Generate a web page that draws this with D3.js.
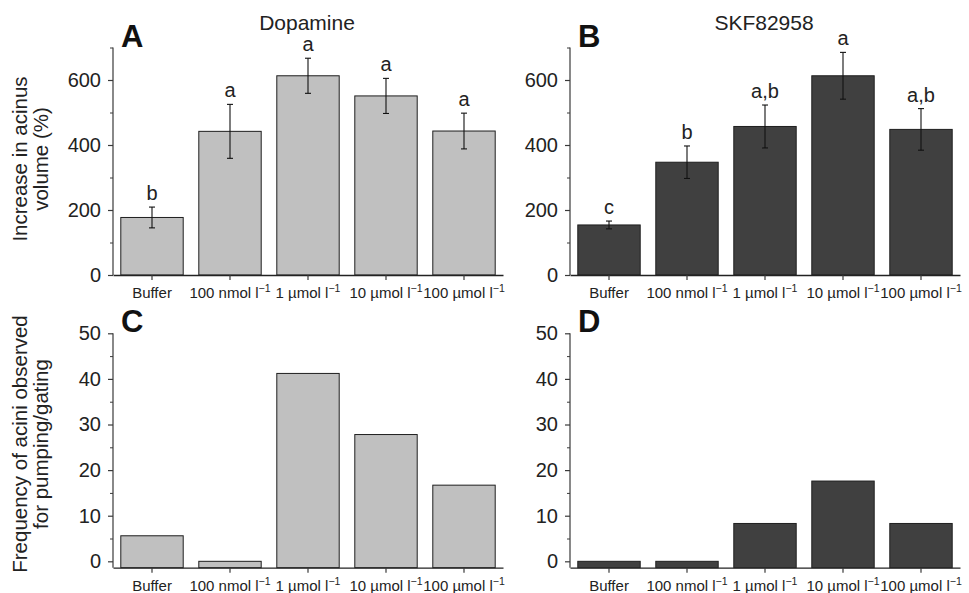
<!DOCTYPE html>
<html>
<head>
<meta charset="utf-8">
<script src="https://cdn.jsdelivr.net/npm/d3@7"></script>
<style>
  html, body { margin: 0; padding: 0; background: #fff; }
  svg { display: block; font-family: "Liberation Sans", Arial, Helvetica, sans-serif; }
</style>
</head>
<body>
<svg id="chart" width="969" height="593"></svg>
<script>
// ---------- data ----------
const categories = ["Buffer", "100 nmol", "1 µmol", "10 µmol", "100 µmol"];
const unitLabels = [false, true, true, true, true];

const dopamineVolume = [177, 442, 613, 551, 443];
const dopamineVolumeErr = [32, 83, 54, 54, 55];
const dopamineLetters = ["b", "a", "a", "a", "a"];

const skfVolume = [154, 347, 457, 613, 448];
const skfVolumeErr = [12, 50, 66, 72, 64];
const skfLetters = ["c", "b", "a,b", "a", "a,b"];

const dopamineFreq = [5.6, 0, 41.2, 27.8, 16.7];
const skfFreq = [0, 0, 8.3, 17.6, 8.3];

const volumeTicks = [0, 200, 400, 600];
const volumeMinorTicks = [100, 300, 500, 700];
const freqTicks = [0, 10, 20, 30, 40, 50];
const freqMinorTicks = [5, 15, 25, 35, 45];

const drugTitles = ["Dopamine", "SKF82958"];
const panelLetters = ["A", "B", "C", "D"];
const volumeTitle = ["Increase in acinus", "volume (%)"];
const freqTitle = ["Frequency of acini observed", "for pumping/gating"];

// ---------- drawing ----------
const svg = d3.select("#chart");
const lightFill = "#c0c0c0", darkFill = "#404040";
const axisColor = "#3a3a3a", textColor = "#222";

function panel(opts) {
  const g = svg.append("g");
  const x = d3.scaleBand().domain(categories).range([opts.x0, opts.x0 + 390])
    .paddingInner(0.2).paddingOuter(0.1);
  const y = d3.scaleLinear().domain(opts.domain).range([opts.yBottom, opts.yTop]);
  const base = y(opts.domain[0]);

  // bars
  g.selectAll("rect.bar").data(opts.values).join("rect")
    .attr("class", "bar")
    .attr("x", (d, i) => x(categories[i]))
    .attr("width", x.bandwidth())
    .attr("y", d => y(d))
    .attr("height", d => base - y(d))
    .attr("fill", opts.fill)
    .attr("stroke", "#1e1e1e")
    .attr("stroke-width", 1);

  // error bars
  if (opts.err) {
    const eg = g.append("g").attr("stroke", "#111").attr("stroke-width", 1.1);
    opts.values.forEach((v, i) => {
      const cx = x(categories[i]) + x.bandwidth() / 2;
      const e = opts.err[i];
      eg.append("line").attr("x1", cx).attr("x2", cx).attr("y1", y(v + e)).attr("y2", y(v - e));
      eg.append("line").attr("x1", cx - 3).attr("x2", cx + 3).attr("y1", y(v + e)).attr("y2", y(v + e));
      eg.append("line").attr("x1", cx - 3).attr("x2", cx + 3).attr("y1", y(v - e)).attr("y2", y(v - e));
      g.append("text")
        .attr("x", cx).attr("y", y(v + e) - 7)
        .attr("text-anchor", "middle")
        .attr("font-size", 20).attr("fill", textColor)
        .text(opts.letters[i]);
    });
  }

  // y axis
  const ya = g.append("g").attr("transform", `translate(${opts.x0},0)`)
    .call(d3.axisLeft(y).tickValues(opts.ticks).tickSize(5).tickSizeOuter(0).tickPadding(7));
  ya.select(".domain").attr("stroke", axisColor).attr("stroke-width", 1.2)
    .attr("d", `M0,${opts.yTop}V${base}`);
  ya.selectAll(".tick line").attr("stroke", axisColor).attr("stroke-width", 1.2);
  ya.selectAll(".tick text").attr("font-size", 20).attr("fill", textColor)
    .attr("font-family", "Liberation Sans, Arial, sans-serif");
  const ym = g.append("g").attr("transform", `translate(${opts.x0},0)`)
    .call(d3.axisLeft(y).tickValues(opts.minor).tickSize(3).tickFormat(""));
  ym.select(".domain").remove();
  ym.selectAll(".tick line").attr("stroke", axisColor).attr("stroke-width", 1);

  // x axis
  const xa = g.append("g").attr("transform", `translate(0,${base})`)
    .call(d3.axisBottom(x).tickSize(5).tickSizeOuter(0).tickFormat(""));
  xa.select(".domain").attr("stroke", "#222").attr("stroke-width", 1.3);
  xa.selectAll(".tick line").attr("stroke", axisColor).attr("stroke-width", 1.2);
  categories.forEach((c, i) => {
    const t = g.append("text")
      .attr("x", x(c) + x.bandwidth() / 2)
      .attr("y", base + 23)
      .attr("text-anchor", "middle")
      .attr("font-size", 15).attr("fill", textColor);
    if (unitLabels[i]) {
      t.append("tspan").text(c + " l");
      t.append("tspan").attr("font-size", 10.5).attr("dy", -6).text("−1");
    } else {
      t.text(c);
    }
  });

  // panel letter
  g.append("text").attr("x", opts.x0 + 8).attr("y", opts.yTop - 1)
    .attr("font-size", 31).attr("font-weight", "bold").attr("fill", "#111")
    .text(opts.letter);

  // title
  if (opts.title) {
    g.append("text").attr("x", opts.x0 + 194).attr("y", 30)
      .attr("text-anchor", "middle").attr("font-size", 21).attr("fill", textColor)
      .text(opts.title);
  }

  // y title
  if (opts.ytitle) {
    const cy = opts.ytitleY;
    opts.ytitle.forEach((line, k) => {
      g.append("text")
        .attr("transform", `translate(${27 + k * 21},${cy}) rotate(-90)`)
        .attr("text-anchor", "middle").attr("font-size", 20.5).attr("fill", textColor)
        .text(line);
    });
  }
}

panel({ x0: 113, yBottom: 275, yTop: 47.5, domain: [0, 700], values: dopamineVolume,
  err: dopamineVolumeErr, letters: dopamineLetters, fill: lightFill, ticks: volumeTicks,
  minor: volumeMinorTicks, letter: panelLetters[0], title: drugTitles[0],
  ytitle: volumeTitle, ytitleY: 159 });
panel({ x0: 570, yBottom: 275, yTop: 47.5, domain: [0, 700], values: skfVolume,
  err: skfVolumeErr, letters: skfLetters, fill: darkFill, ticks: volumeTicks,
  minor: volumeMinorTicks, letter: panelLetters[1], title: drugTitles[1] });
panel({ x0: 113, yBottom: 567.7, yTop: 333.3, domain: [-1.4, 50], values: dopamineFreq,
  fill: lightFill, ticks: freqTicks, minor: freqMinorTicks, letter: panelLetters[2],
  ytitle: freqTitle, ytitleY: 444 });
panel({ x0: 570, yBottom: 567.7, yTop: 333.3, domain: [-1.4, 50], values: skfFreq,
  fill: darkFill, ticks: freqTicks, minor: freqMinorTicks, letter: panelLetters[3] });
</script>
</body>
</html>
